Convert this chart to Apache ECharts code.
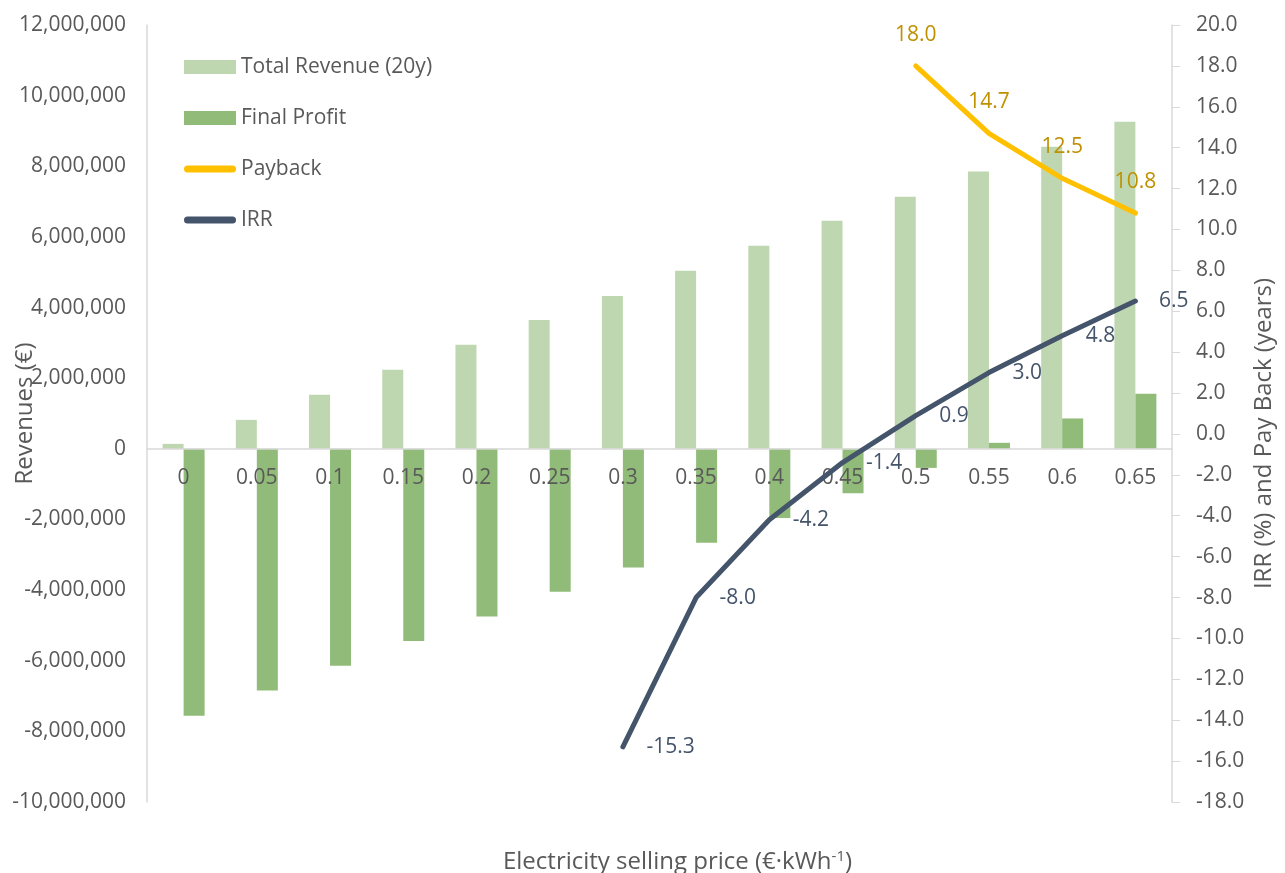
<!DOCTYPE html>
<html>
<head>
<meta charset="utf-8">
<script src="https://cdn.jsdelivr.net/npm/echarts@6/dist/echarts.min.js"></script>
<style>html,body{margin:0;padding:0;background:#fff}#c{width:1285px;height:873px}</style>
</head>
<body>
<div id="c"></div>
<script>
const categories = ['0','0.05','0.1','0.15','0.2','0.25','0.3','0.35','0.4','0.45','0.5','0.55','0.6','0.65'];
const totalRevenue = [140000, 820000, 1530000, 2240000, 2950000, 3650000, 4330000, 5040000, 5750000, 6460000, 7140000, 7850000, 8550000, 9260000];
const finalProfit = [-7560000, -6840000, -6140000, -5440000, -4750000, -4050000, -3360000, -2660000, -1960000, -1260000, -540000, 170000, 860000, 1560000];
const payback = [null, null, null, null, null, null, null, null, null, null, 18.0, 14.7, 12.5, 10.8];
const irr = [null, null, null, null, null, null, -15.3, -8.0, -4.2, -1.4, 0.9, 3.0, 4.8, 6.5];

const FONT = 'Open Sans';
const FS = 21;
const NFS = 24;
const TXT = '#595959';
const LINE_ICON = 'path://M3.5,0 L48.5,0 A3.5,3.5 0 0 1 48.5,7 L3.5,7 A3.5,3.5 0 0 1 3.5,0 Z';
const fmt1 = p => (p.value == null || isNaN(Number(p.value))) ? '' : Number(p.value).toFixed(1);
const chart = echarts.init(document.getElementById('c'), null, {renderer: 'canvas'});
chart.setOption({
  animation: false,
  textStyle: {fontFamily: FONT},
  grid: {left: 147, right: 113, top: 25, bottom: 71, containLabel: false, outerBoundsMode: 'none'},
  legend: {
    orient: 'vertical', left: 179, top: 50,
    itemWidth: 52, itemHeight: 14, itemGap: 27,
    textStyle: {fontFamily: FONT, fontSize: FS, color: TXT, lineHeight: 24},
    data: [
      {name: 'Total Revenue (20y)', icon: 'rect'},
      {name: 'Final Profit', icon: 'rect'},
      {name: 'Payback', icon: LINE_ICON, itemStyle: {color: '#FFC000', borderWidth: 0}},
      {name: 'IRR', icon: LINE_ICON, itemStyle: {color: '#44546A', borderWidth: 0}}
    ]
  },
  xAxis: {
    type: 'category', data: categories, z: 3,
    axisLine: {show: true, onZero: true, lineStyle: {color: '#d9d9d9', width: 1.5}},
    axisTick: {show: false},
    axisLabel: {color: TXT, fontSize: FS, margin: -334, fontFamily: FONT},
    name: 'Electricity selling price (€·kWh{sup|-1})',
    nameLocation: 'middle', nameGap: 47, nameMoveOverlap: false,
    nameTextStyle: {color: TXT, fontSize: NFS, fontFamily: FONT, padding: [0, 0, 0, 36],
      rich: {sup: {fontSize: 15, color: TXT, fontFamily: FONT, padding: [0, 0, 12, 0]}}}
  },
  yAxis: [{
    type: 'value', min: -10000000, max: 12000000, interval: 2000000,
    axisLine: {show: true, lineStyle: {color: '#d9d9d9', width: 1.5}},
    axisTick: {show: false},
    splitLine: {show: false},
    axisLabel: {color: TXT, fontSize: FS, margin: 21, fontFamily: FONT,
      formatter: v => v.toLocaleString('en-US')},
    name: 'Revenues (€)', nameLocation: 'middle', nameGap: 110, nameMoveOverlap: false,
    nameTextStyle: {color: TXT, fontSize: NFS, fontFamily: FONT}
  }, {
    type: 'value', min: -18, max: 20, interval: 2, position: 'right',
    axisLine: {show: true, lineStyle: {color: '#d9d9d9', width: 1.5}},
    axisTick: {show: true, length: 8, lineStyle: {color: '#d9d9d9'}},
    splitLine: {show: false},
    axisLabel: {color: TXT, fontSize: FS, margin: 24, fontFamily: FONT,
      formatter: v => v.toFixed(1)},
    name: 'IRR (%) and Pay Back (years)', nameLocation: 'middle', nameGap: 80, nameMoveOverlap: false,
    nameTextStyle: {color: TXT, fontSize: NFS, fontFamily: FONT, padding: [0, 40, 0, 0]}
  }],
  series: [{
    name: 'Total Revenue (20y)', type: 'bar', data: totalRevenue, yAxisIndex: 0,
    barWidth: 21, barGap: '0%', itemStyle: {color: '#BFD7B0'}
  }, {
    name: 'Final Profit', type: 'bar', data: finalProfit, yAxisIndex: 0,
    barWidth: 21, barGap: '0%', itemStyle: {color: '#90BB78'}
  }, {
    name: 'Payback', type: 'line', data: payback, yAxisIndex: 1, z: 4,
    symbol: 'circle', symbolSize: 1, showSymbol: true,
    lineStyle: {color: '#FFC000', width: 5, cap: 'round', join: 'round'},
    itemStyle: {color: '#FFC000'},
    label: {show: true, position: 'top', distance: 20, color: '#BF9000', fontSize: FS, fontFamily: FONT,
      formatter: fmt1}
  }, {
    name: 'IRR', type: 'line', data: irr, yAxisIndex: 1, z: 4,
    symbol: 'circle', symbolSize: 1, showSymbol: true,
    lineStyle: {color: '#44546A', width: 5, cap: 'round', join: 'round'},
    itemStyle: {color: '#44546A'},
    label: {show: true, position: 'right', distance: 23, color: '#44546A', fontSize: FS, fontFamily: FONT,
      formatter: fmt1}
  }]
});
</script>
</body>
</html>
